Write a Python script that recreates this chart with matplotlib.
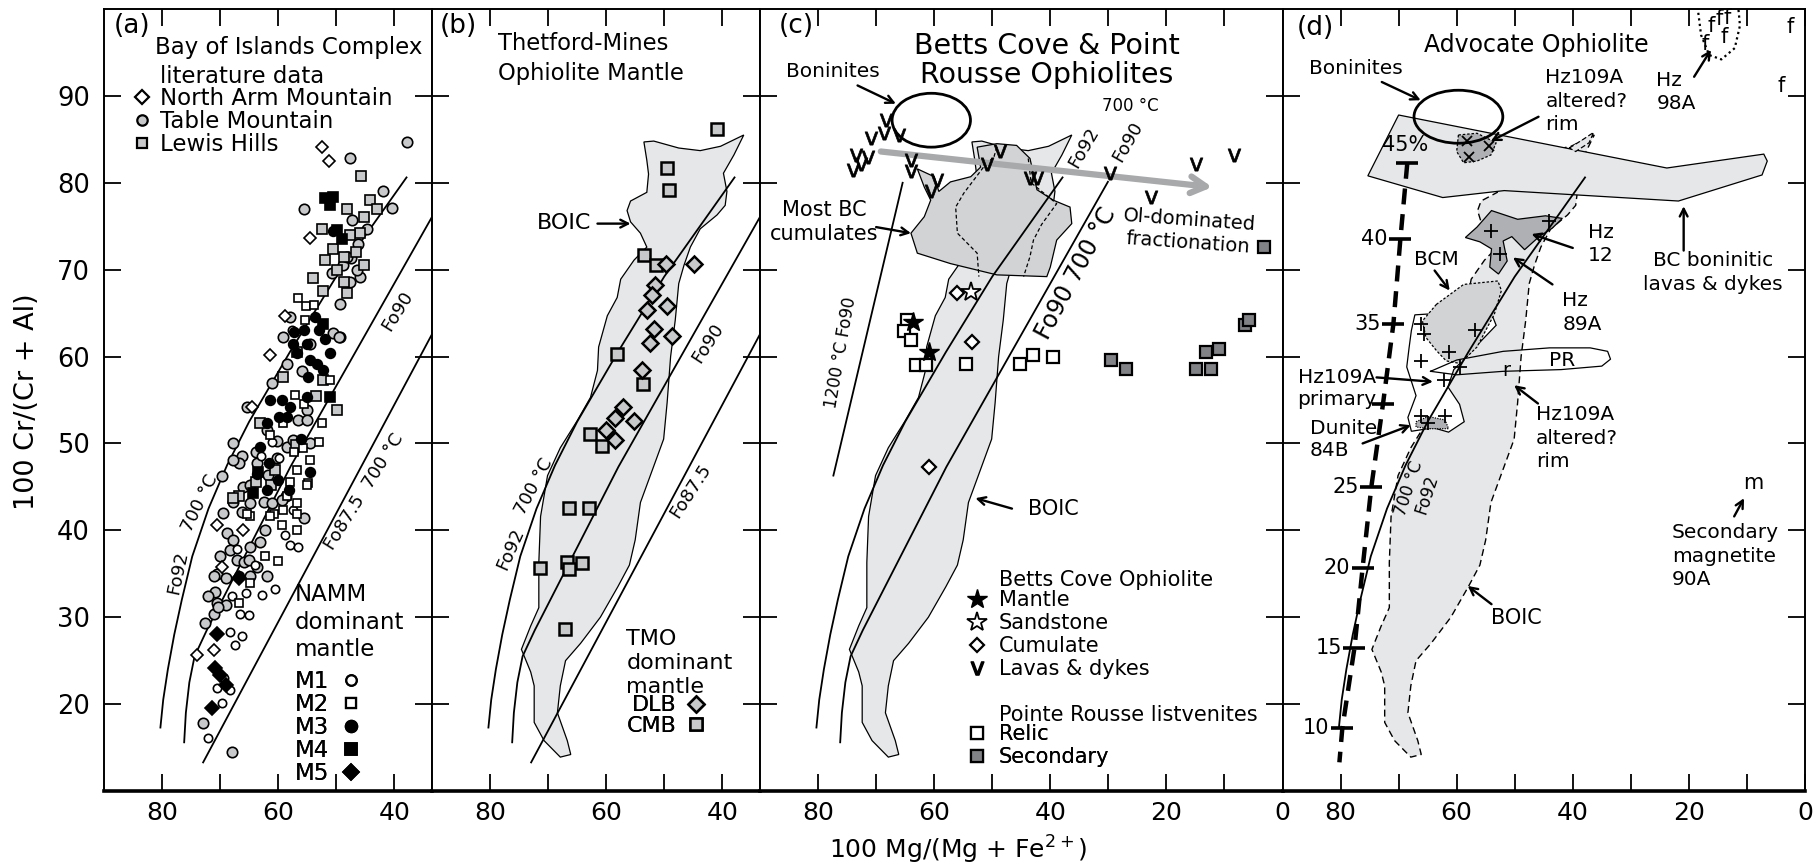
import matplotlib.pyplot as plt
from matplotlib.patches import Polygon, Ellipse
from matplotlib.lines import Line2D

plt.rcParams['font.family'] = ['DejaVu Sans']
plt.rcParams['mathtext.fontset'] = 'dejavusans'

# ---------------- data ----------------
# olivine-spinel isotherm curves (shared between panels)
fo92_x = [80.3, 79.8, 79.0, 77.9, 76.6, 74.8, 72.0, 68.8, 65.0, 58.0, 50.0, 37.8]
fo92_y = [17.2, 20.5, 24.0, 28.0, 32.0, 37.0, 42.5, 47.5, 52.5, 60.5, 69.2, 80.7]
fo90_x = [76.2, 75.9, 75.3, 74.4, 72.3, 57.9, 30.0]
fo90_y = [15.5, 19.0, 22.5, 25.5, 28.5, 47.3, 80.2]
fo875_x = [73.0, 30.6]
fo875_y = [13.2, 66.2]
t1200_x = [65.4, 77.4]
t1200_y = [80.1, 46.2]

# (a) Bay of Islands Complex - literature data
nam_x = [52.5, 51.3, 54.6, 58.8, 61.4, 64.5, 70.6, 66.0, 69.7, 71.1, 74.0]
nam_y = [84.1, 82.5, 73.6, 64.7, 60.2, 54.2, 40.6, 40.0, 35.8, 26.2, 25.7]
tm_x = [37.8, 47.6, 42.0, 55.6, 40.4, 47.3, 44.7, 46.2, 47.5, 48.8, 47.6, 45.9, 49.3, 50.5,
        49.3, 54.5, 59.1, 57.9, 58.5, 55.9, 61.0, 65.4, 56.5, 55.1, 58.5, 67.7, 62.0, 60.2,
        63.8, 66.2, 69.7, 66.8, 67.7, 66.3, 64.8, 62.5, 61.1, 55.6, 68.8, 67.7, 68.3, 64.8,
        63.1, 70.0, 67.1, 70.6, 68.9, 70.9, 64.8, 62.0, 70.6, 71.1, 68.9, 72.6, 72.9, 68.0,
        65.9, 69.5, 66.0, 58.7, 48.2, 46.4, 50.7, 49.6, 55.1, 57.4, 54.5, 63.7, 60.2, 67.7,
        64.8, 61.7, 59.4, 62.2, 65.1, 63.7, 71.1, 70.3, 72.0]
tm_y = [84.7, 82.8, 79.0, 77.0, 77.1, 75.7, 74.7, 72.9, 71.3, 70.5, 68.6, 69.2, 66.1, 62.7,
        62.3, 61.5, 62.3, 64.6, 59.2, 58.3, 57.0, 54.2, 52.7, 53.8, 49.6, 50.0, 51.5, 50.3,
        49.0, 48.6, 46.2, 47.7, 43.3, 42.1, 43.1, 43.3, 43.1, 41.4, 39.7, 38.9, 37.7, 38.1,
        38.7, 37.0, 36.6, 35.0, 34.5, 32.9, 34.7, 34.7, 31.6, 30.4, 31.4, 29.3, 17.8, 14.5,
        36.3, 42.0, 45.0, 44.0, 71.5, 70.0, 69.6, 62.3, 52.7, 50.4, 50.0, 47.7, 48.3, 48.1,
        45.2, 46.4, 43.5, 40.0, 36.6, 35.8, 34.7, 31.2, 32.4]
lh_x = [45.7, 44.1, 43.0, 48.2, 45.3, 45.9, 47.6, 52.5, 48.7, 51.9, 45.3, 49.9, 48.7, 48.2,
        52.3, 59.1, 52.2, 49.9, 63.1, 50.5, 46.6, 54.0, 56.7, 53.5, 63.8, 66.8, 60.5, 57.0,
        67.7, 61.3]
lh_y = [80.8, 78.0, 77.0, 77.0, 76.1, 74.2, 74.0, 74.7, 71.5, 71.1, 70.5, 70.0, 68.6, 67.3,
        67.5, 57.7, 57.3, 53.8, 52.3, 72.4, 72.0, 69.0, 60.5, 55.5, 45.6, 44.0, 47.0, 49.8,
        43.7, 45.2]
# (a) NAMM dominant mantle
m1_x = [57.6, 61.0, 62.9, 59.9, 67.1, 68.0, 66.6, 68.3, 67.4, 66.3, 65.1, 57.9, 56.5, 60.5,
        62.8, 70.6, 69.7, 72.0, 68.3, 57.4, 58.8, 64.0, 65.5, 69.3]
m1_y = [63.1, 50.2, 48.6, 48.3, 37.9, 32.4, 30.4, 28.3, 26.8, 27.8, 30.2, 38.3, 38.1, 33.3,
        32.6, 21.8, 20.1, 16.1, 21.6, 42.3, 39.5, 36.0, 32.8, 23.0]
m2_x = [56.5, 55.2, 53.9, 55.4, 51.0, 57.1, 55.6, 52.5, 53.0, 61.4, 59.1, 55.8, 57.3, 64.8,
        60.8, 59.1, 56.8, 59.4, 56.8, 54.8, 54.5, 64.8, 66.8, 56.8, 62.3, 60.0, 57.9, 56.8,
        55.1, 58.5, 61.4, 65.4]
m2_y = [66.7, 65.8, 65.9, 64.2, 57.3, 55.6, 54.5, 52.3, 50.2, 51.0, 52.3, 49.5, 49.0, 41.6,
        41.9, 42.3, 41.9, 40.6, 40.0, 45.4, 48.1, 33.9, 31.6, 43.1, 37.0, 36.5, 45.6, 46.9,
        45.2, 43.9, 41.6, 41.9]
m3_x = [50.5, 53.6, 55.1, 51.1, 56.8, 54.8, 53.3, 55.1, 61.4, 57.9, 59.8, 63.1, 61.5, 63.7,
        60.0, 54.5, 62.0, 58.2, 66.8, 57.2, 52.0, 56.0, 55.6, 53.0, 57.4, 54.5, 52.2, 59.4,
        61.9, 58.5]
m3_y = [74.4, 64.6, 61.5, 60.4, 60.4, 57.7, 59.2, 55.4, 55.0, 54.2, 53.0, 49.6, 47.8, 46.5,
        45.8, 46.7, 44.6, 44.6, 34.7, 62.8, 62.0, 50.5, 63.0, 63.0, 61.5, 59.6, 58.5, 55.0,
        52.3, 53.1]
m4_x = [51.9, 51.0, 50.6, 49.9, 49.0, 51.0, 52.2, 63.4, 64.3]
m4_y = [78.2, 77.4, 78.4, 74.6, 73.5, 55.4, 63.8, 46.7, 44.3]
m5_x = [70.6, 70.9, 70.0, 68.9, 71.4, 66.8]
m5_y = [28.1, 24.1, 23.4, 22.2, 19.5, 34.5]

# (b) Thetford-Mines Ophiolite mantle
cmb_x = [40.9, 49.5, 49.1, 53.4, 51.5, 58.2, 53.6, 62.7, 60.7, 66.4, 63.0, 71.4, 66.7, 64.1,
         66.4, 67.1]
cmb_y = [86.2, 81.7, 79.2, 71.7, 70.5, 60.3, 56.8, 51.1, 49.7, 42.6, 42.6, 35.7, 36.3, 36.2,
         35.6, 28.6]
dlb_x = [49.7, 44.9, 51.6, 52.1, 53.0, 49.5, 51.8, 48.7, 52.4, 53.8, 57.1, 58.4, 55.2, 60.1,
         58.4]
dlb_y = [70.6, 70.6, 68.2, 67.1, 65.4, 65.8, 63.2, 62.4, 61.6, 58.4, 54.2, 52.9, 52.6, 51.6,
         50.4]

# BOIC field outline (shared b, c, d)
boic_x = [53.5, 51.8, 47.5, 43.8, 40.3, 36.3, 38.0, 39.8, 39.2, 39.5, 40.9, 43.8, 45.5, 46.6,
          47.5, 48.1, 48.9, 49.5, 50.1, 52.4, 54.1, 55.0, 56.0, 58.0, 61.0, 64.4, 67.0, 67.9,
          68.4, 66.7, 66.1, 67.9, 70.7, 72.4, 72.4, 73.0, 74.6, 73.0, 71.6, 71.6, 71.3, 70.1,
          67.9, 65.0, 62.7, 61.5, 61.3, 59.8, 58.1, 57.5, 55.2, 53.0, 54.1, 55.8, 56.4, 55.8,
          53.0, 52.7, 53.0]
boic_y = [84.7, 84.8, 84.0, 83.7, 84.2, 85.5, 83.2, 81.1, 79.0, 77.4, 76.3, 74.7, 72.6, 70.5,
          68.4, 64.2, 60.0, 54.7, 50.5, 46.3, 43.2, 38.9, 36.0, 33.5, 30.0, 27.0, 25.0, 22.1,
          19.0, 15.8, 14.2, 13.9, 15.8, 17.9, 22.1, 23.7, 26.3, 29.0, 31.1, 36.3, 41.6, 46.3,
          49.5, 52.6, 55.3, 58.4, 61.1, 64.7, 66.8, 68.9, 71.1, 72.6, 74.2, 75.5, 76.8, 77.9,
          78.9, 81.0, 82.6]

# (c) Betts Cove & Pointe Rousse
cum_x = [62.9, 60.0, 59.2, 57.2, 53.7, 52.0, 52.6, 49.2, 45.8, 43.5, 42.3, 39.5, 36.6, 36.3,
         38.9, 40.0, 40.6, 49.2, 57.2, 62.9, 64.0, 61.7, 60.6, 61.7]
cum_y = [81.6, 80.7, 79.0, 80.1, 80.7, 81.8, 84.1, 84.5, 84.3, 82.8, 79.2, 78.0, 77.2, 75.3,
         73.4, 70.3, 69.2, 69.4, 70.7, 71.9, 74.2, 76.1, 78.0, 79.5]
dash1_x = [49.2, 49.7, 51.5, 54.9, 56.3, 56.0, 52.6, 52.3]
dash1_y = [84.1, 83.0, 81.8, 78.8, 77.2, 74.2, 71.9, 69.2]
dash2_x = [43.8, 43.3, 38.9, 41.5, 42.9, 43.5, 44.6]
dash2_y = [82.8, 80.0, 77.6, 75.2, 73.4, 71.5, 69.2]
lava_x = [68.3, 70.9, 68.6, 66.0, 73.4, 71.4, 74.0, 72.6, 64.0, 64.0, 59.5, 60.6, 48.6, 50.9,
          43.5, 42.3, 29.8, 22.6, 14.9, 8.4]
lava_y = [87.2, 85.1, 85.7, 85.5, 83.2, 83.0, 81.5, 82.2, 82.6, 81.3, 80.3, 79.0, 83.6, 82.2,
          80.5, 80.5, 81.1, 78.4, 82.2, 83.2]
mantle_x = [63.7, 60.9]
mantle_y = [64.0, 60.5]
sand_x = [53.7]
sand_y = [67.4]
cumulate_x = [56.0, 53.5, 60.9]
cumulate_y = [67.3, 61.7, 47.3]
relic_x = [64.6, 65.2, 64.0, 63.1, 61.4, 54.6, 45.2, 42.9, 39.5]
relic_y = [64.2, 62.9, 61.9, 59.0, 59.0, 59.2, 59.2, 60.2, 60.0]
second_x = [29.5, 26.9, 14.9, 12.4, 13.2, 11.0, 6.4, 5.8, 3.2]
second_y = [59.6, 58.6, 58.6, 58.6, 60.5, 60.9, 63.6, 64.2, 72.6]
ol_trend_x = [69.2, 12.1]
ol_trend_y = [83.6, 79.5]

# (d) Advocate Ophiolite
bc_x = [70.0, 23.8, 7.1, 6.5, 7.4, 21.8, 51.8, 62.4, 75.3]
bc_y = [87.8, 81.7, 83.3, 82.5, 80.9, 77.9, 79.1, 78.3, 80.8]
hzalt_x = [59.7, 56.5, 53.2, 54.1, 56.5, 58.8, 60.0]
hzalt_y = [85.5, 85.7, 84.6, 83.2, 82.5, 82.3, 83.6]
sliver_x = [40.6, 38.2, 36.4, 37.2, 39.5]
sliver_y = [84.0, 85.0, 85.8, 84.6, 83.6]
hzx_x = [58.2, 54.4, 57.9]
hzx_y = [84.8, 84.2, 83.0]
prim_x = [67.2, 60.0, 53.8, 53.2, 55.5, 58.0, 60.5, 61.5, 59.5, 58.7, 61.4, 64.0, 67.8, 68.4,
          67.0, 68.6, 68.2, 67.8]
prim_y = [64.8, 65.1, 64.6, 63.6, 62.0, 60.2, 58.5, 56.5, 54.5, 52.5, 51.3, 51.8, 51.4, 53.0,
          55.5, 58.8, 61.0, 63.0]
bcm_x = [63.5, 58.8, 52.9, 52.3, 53.5, 56.5, 59.4, 61.8, 63.5, 65.3, 65.9]
bcm_y = [66.0, 68.3, 68.7, 67.6, 64.9, 61.1, 59.2, 59.5, 60.7, 62.2, 64.1]
hz12_x = [58.5, 56.5, 54.0, 49.5, 44.7, 41.8, 43.5, 45.8, 48.3, 50.5, 52.0, 51.3, 52.8, 54.3,
          54.0, 56.0]
hz12_y = [73.7, 74.9, 76.8, 75.8, 76.2, 75.9, 74.8, 73.8, 72.3, 73.8, 73.3, 71.0, 69.5, 70.3,
          72.4, 73.2]
pr_x = [64.5, 60.0, 52.0, 44.0, 37.0, 34.0, 33.5, 35.0, 42.0, 52.0, 60.0]
pr_y = [58.3, 59.6, 60.6, 61.0, 61.0, 60.6, 59.7, 58.9, 58.5, 58.3, 57.9]
dun_x = [67.0, 64.9, 62.0, 61.4, 64.9, 67.0]
dun_y = [52.5, 53.1, 52.7, 51.7, 51.7, 51.9]
hz_x = [44.1, 54.1, 52.6, 66.2, 65.6, 56.8, 61.3, 66.2, 59.4, 62.1, 66.1, 62.0, 64.9]
hz_y = [75.6, 74.4, 71.8, 63.7, 62.6, 63.0, 60.5, 59.5, 58.8, 57.3, 53.2, 53.2, 52.3]
# melting-degree scale (% melting) along the dashed trend
melt_pct = [45, 40, 35, 30, 25, 20, 15, 10]
melt_x = [68.5, 69.7, 70.9, 72.7, 74.7, 76.2, 77.6, 79.7]
melt_y = [82.3, 73.5, 63.75, 54.5, 45.0, 35.7, 26.5, 17.2]
melt_labels = ['45%', '40', '35', '', '25', '20', '15', '10']
melt_end_x = [80.2]
melt_end_y = [13.3]
hz98_x = [18.5, 17.9, 16.5, 14.4, 12.1, 11.2, 11.5]
hz98_y = [100.2, 97.0, 94.7, 94.2, 95.5, 98.1, 100.2]
fchar_x = [17.2, 16.2, 14.8, 13.4, 14.0, 2.6, 4.1]
fchar_y = [96.0, 98.1, 98.8, 99.0, 96.8, 97.9, 91.1]

# ---------------- styles ----------------
LIGHT = '#e6e7e8'
MID = '#d1d3d4'
DARK = '#aeb0b3'
GREYMK = '#c8c9cb'

fig = plt.figure(figsize=(18.2, 8.67), dpi=100)
gs = fig.add_gridspec(1, 4, width_ratios=[56.5, 56.5, 90, 90], wspace=0,
                      left=104 / 1820, right=1805 / 1820, bottom=1 - 791 / 867, top=1 - 9 / 867)
axes = [fig.add_subplot(gs[0, i]) for i in range(4)]
ax_a, ax_b, ax_c, ax_d = axes

for i, ax in enumerate(axes):
    if i < 2:
        ax.set_xlim(90, 33.5)
        ax.set_xticks([80, 70, 60, 50, 40])
        ax.set_xticklabels(['80', '', '60', '', '40'])
    else:
        ax.set_xlim(90, 0)
        ax.set_xticks(range(80, -1, -10))
        ax.set_xticklabels(['80', '', '60', '', '40', '', '20', '', '0'])
    ax.set_ylim(10, 100)
    ax.set_yticks(range(20, 91, 10))
    ax.tick_params(direction='in', length=12, width=1.3, top=True, right=True)
    ax.tick_params(axis='x', labelsize=18, pad=7)
    ax.tick_params(axis='y', labelsize=18.5, pad=10)
    if i > 0:
        ax.tick_params(labelleft=False)
    for s in ax.spines.values():
        s.set_linewidth(1.4)
    ax.spines['bottom'].set_linewidth(2.6)


def curve(ax, x, y, **kw):
    ax.plot(x, y, color='k', lw=1.3, solid_capstyle='butt', **kw)


def poly(ax, x, y, fc, ec='k', lw=0.9, ls='-', z=1):
    ax.add_patch(Polygon(list(zip(x, y)), closed=True, fc=fc, ec=ec, lw=lw, ls=ls, zorder=z))


def arrow(ax, tail, head, lw=1.7):
    ax.annotate('', xy=head, xytext=tail,
                arrowprops=dict(arrowstyle='->,head_length=0.55,head_width=0.28', lw=lw,
                                color='k', shrinkA=0, shrinkB=0))


def mk(ax, x, y, marker, ms, fc, mew=1.2, z=3):
    ax.plot(x, y, ls='none', marker=marker, ms=ms, mfc=fc, mec='k', mew=mew, zorder=z)


def key(marker, ms, fc, mew=1.2):
    return Line2D([], [], ls='none', marker=marker, ms=ms, mfc=fc, mec='k', mew=mew)


def legend(ax, handles, labels, x, y, fs, first=True, pad=0.4, sp=0.0):
    lg = ax.legend(handles, labels, loc='upper left', bbox_to_anchor=(x, y),
                   bbox_transform=ax.transData, frameon=False, fontsize=fs, markerfirst=first,
                   handlelength=0.8, handletextpad=pad, labelspacing=sp, borderpad=0,
                   borderaxespad=0, numpoints=1)
    ax.add_artist(lg)


# ---------------- panel (a) ----------------
ax = ax_a
curve(ax, fo92_x, fo92_y)
curve(ax, fo90_x, fo90_y)
curve(ax, fo875_x, fo875_y)
mk(ax, tm_x, tm_y, 'o', 7.5, GREYMK)
mk(ax, lh_x, lh_y, 's', 7.5, GREYMK)
mk(ax, nam_x, nam_y, 'D', 6.5, 'white')
mk(ax, m1_x, m1_y, 'o', 6, 'white')
mk(ax, m2_x, m2_y, 's', 5.5, 'white')
mk(ax, m3_x, m3_y, 'o', 7, 'k')
mk(ax, m4_x, m4_y, 's', 7, 'k')
mk(ax, m5_x, m5_y, 'D', 7, 'k')
ax.text(88.4, 98.0, '(a)', fontsize=19, va='center', ha='left')
ax.text(81.2, 95.6, 'Bay of Islands Complex', fontsize=16.5, va='center', ha='left')
ax.text(80.3, 92.2, 'literature data', fontsize=16.5, va='center', ha='left')
legend(ax, [key('D', 7, 'white', 1.6), key('o', 7.5, GREYMK, 1.6), key('s', 7.5, GREYMK, 1.6)],
       ['North Arm Mountain', 'Table Mountain', 'Lewis Hills'], 85.1, 91.0, 16.5)
ax.text(57.1, 33.9, 'NAMM\ndominant\nmantle', fontsize=16.5, va='top', ha='left',
        linespacing=1.25)
legend(ax, [key('o', 7.5, 'white', 1.6), key('s', 7.5, 'white', 1.6), key('o', 8.5, 'k'),
            key('s', 8.5, 'k'), key('D', 8.5, 'k')],
       ['M1', 'M2', 'M3', 'M4', 'M5'], 57.1, 23.9, 16.5, first=False, pad=0.55)
ax.text(77.2, 35.1, 'Fo92', fontsize=13, rotation=78, ha='center', va='center')
ax.text(73.4, 43.1, '700 °C', fontsize=13, rotation=64, ha='center', va='center')
ax.text(39.5, 65.2, 'Fo90', fontsize=13, rotation=58, ha='center', va='center')
ax.text(45.2, 44.4, 'Fo87.5  700 °C', fontsize=13, rotation=58, ha='center', va='center')

# ---------------- panel (b) ----------------
ax = ax_b
poly(ax, boic_x, boic_y, LIGHT)
curve(ax, fo92_x, fo92_y)
curve(ax, fo90_x, fo90_y)
curve(ax, fo875_x, fo875_y)
mk(ax, cmb_x, cmb_y, 's', 8.5, GREYMK, 1.8)
mk(ax, dlb_x, dlb_y, 'D', 8, GREYMK, 1.8)
ax.text(88.7, 98.0, '(b)', fontsize=19, va='center', ha='left')
ax.text(78.7, 97.3, 'Thetford-Mines\nOphiolite Mantle', fontsize=16.3, va='top', ha='left',
        linespacing=1.35)
ax.text(67.3, 75.4, 'BOIC', fontsize=16, va='center', ha='center')
arrow(ax, (61.5, 75.3), (55.8, 75.3))
ax.text(76.4, 37.9, 'Fo92', fontsize=13, rotation=66, ha='center', va='center')
ax.text(72.4, 45.0, '700 °C', fontsize=13, rotation=62, ha='center', va='center')
ax.text(42.4, 61.6, 'Fo90', fontsize=13, rotation=57, ha='center', va='center')
ax.text(45.5, 44.5, 'Fo87.5', fontsize=13, rotation=57, ha='center', va='center')
ax.text(56.5, 28.6, 'TMO\ndominant\nmantle', fontsize=16, va='top', ha='left', linespacing=1.25)
legend(ax, [key('D', 8, GREYMK, 1.8), key('s', 8.5, GREYMK, 1.8)], ['DLB', 'CMB'],
       56.5, 21.0, 16, first=False, pad=0.48, sp=0.03)

# ---------------- panel (c) ----------------
ax = ax_c
poly(ax, boic_x, boic_y, LIGHT)
poly(ax, cum_x, cum_y, MID)
ax.plot(dash1_x, dash1_y, 'k--', lw=0.9, dashes=(3, 2))
ax.plot(dash2_x, dash2_y, 'k--', lw=0.9, dashes=(3, 2))
curve(ax, fo92_x, fo92_y)
curve(ax, fo90_x, fo90_y)
curve(ax, t1200_x, t1200_y)
ax.add_patch(Ellipse((60.5, 87.2), 13.5, 6.2, fc='none', ec='k', lw=2.0))
ax.annotate('', xy=(ol_trend_x[1], ol_trend_y[1]), xytext=(ol_trend_x[0], ol_trend_y[0]),
            arrowprops=dict(arrowstyle='->,head_length=1.1,head_width=0.6', lw=4.5,
                            color='#a7a9ab', shrinkA=0, shrinkB=0), zorder=4)
ax.plot(lava_x, lava_y, ls='none', marker=r'$\mathsf{v}$', ms=9.5, color='k', mew=0.5, zorder=5)
mk(ax, relic_x, relic_y, 's', 8, 'white', 1.6)
mk(ax, second_x, second_y, 's', 8, '#808285', 1.6)
mk(ax, cumulate_x, cumulate_y, 'D', 7, 'white', 1.6)
mk(ax, sand_x, sand_y, '*', 15, 'white', 1.3)
mk(ax, mantle_x, mantle_y, '*', 15, 'k', 1.0)
ax.text(86.8, 98.1, '(c)', fontsize=19, va='center', ha='left')
ax.text(40.6, 97.4, 'Betts Cove & Point\nRousse Ophiolites', fontsize=20.5, va='top',
        ha='center', linespacing=1.05)
ax.text(77.4, 92.8, 'Boninites', fontsize=14.5, va='center', ha='center')
arrow(ax, (73.2, 91.2), (66.6, 89.1))
ax.text(79.0, 75.5, 'Most BC\ncumulates', fontsize=15, va='center', ha='center',
        linespacing=1.25)
arrow(ax, (70.0, 74.9), (64.0, 74.2))
ax.text(16.1, 74.4, 'Ol-dominated\nfractionation', fontsize=14, va='center', ha='center',
        rotation=-4, linespacing=1.2)
ax.text(39.5, 42.5, 'BOIC', fontsize=15, va='center', ha='center')
arrow(ax, (46.6, 42.5), (52.9, 43.7))
ax.text(76.0, 60.4, '1200 °C Fo90', fontsize=12, rotation=80, ha='center', va='center')
ax.text(34.3, 84.1, 'Fo92', fontsize=13, rotation=60, ha='center', va='center')
ax.text(26.3, 88.8, '700 °C', fontsize=12, ha='center', va='center')
ax.text(26.6, 84.7, 'Fo90', fontsize=13, rotation=60, ha='center', va='center')
ax.text(35.5, 69.6, 'Fo90 700 °C', fontsize=17, rotation=62, ha='center', va='center')
ax.text(48.9, 34.3, 'Betts Cove Ophiolite', fontsize=15, va='center', ha='left')
legend(ax, [key('*', 15, 'k', 1.0), key('*', 15, 'white', 1.3), key('D', 7, 'white', 1.6),
            Line2D([], [], ls='none', marker=r'$\mathsf{v}$', ms=9.5, color='k')],
       ['Mantle', 'Sandstone', 'Cumulate', 'Lavas & dykes'], 54.0, 33.1, 15, pad=0.63, sp=0.14)
ax.text(48.9, 18.8, 'Pointe Rousse listvenites', fontsize=15, va='center', ha='left')
legend(ax, [key('s', 8, 'white', 1.6), key('s', 8, '#808285', 1.6)], ['Relic', 'Secondary'],
       54.0, 17.7, 15, pad=0.63, sp=0.14)

# ---------------- panel (d) ----------------
ax = ax_d
poly(ax, boic_x, boic_y, LIGHT, lw=1.0, ls=(0, (5, 3)))
poly(ax, bc_x, bc_y, LIGHT, lw=0.9)
poly(ax, sliver_x, sliver_y, LIGHT, lw=0.9, ls=(0, (4, 2)))
poly(ax, hzalt_x, hzalt_y, DARK, lw=0.9, ls=(0, (2, 1.5)), z=2)
poly(ax, prim_x, prim_y, 'white', lw=0.9)
poly(ax, bcm_x, bcm_y, MID, lw=0.9, ls=(0, (2, 1.5)))
poly(ax, hz12_x, hz12_y, DARK, lw=0.9)
ax.plot(pr_x + pr_x[:1], pr_y + pr_y[:1], color='k', lw=0.9)
poly(ax, dun_x, dun_y, DARK, lw=0.9, ls=(0, (1, 1)))
curve(ax, fo92_x, fo92_y)
ax.add_patch(Ellipse((59.7, 87.6), 15.3, 6.1, fc='none', ec='k', lw=2.0, zorder=2))
ax.plot(melt_x + melt_end_x, melt_y + melt_end_y, color='k', lw=3.2, dashes=(3.6, 2.2),
        zorder=3)
ax.plot(melt_x, melt_y, ls='none', marker='_', ms=16, mew=2.6, color='k', zorder=3)
for px, py, lab in zip(melt_x, melt_y, melt_labels):
    if lab.endswith('%'):
        ax.text(px + 0.3, py + 2.0, lab, fontsize=15, ha='center', va='center')
    elif lab:
        ax.text(px + 2.2, py, lab, fontsize=15, ha='right', va='center')
ax.plot(hz_x, hz_y, ls='none', marker='+', ms=10, mew=1.3, color='k', zorder=4)
ax.plot(hzx_x, hzx_y, ls='none', marker='x', ms=7, mew=1.3, color='k', zorder=4)
ax.plot(hz98_x, hz98_y, color='k', lw=1.6, ls=(0, (1, 1.5)))
for fx, fy in zip(fchar_x, fchar_y):
    ax.text(fx, fy, 'f', fontsize=15, ha='center', va='center')
ax.text(51.5, 58.4, 'r', fontsize=14, ha='center', va='center')
ax.text(8.9, 45.4, 'm', fontsize=15, ha='center', va='center')
ax.text(87.6, 97.8, '(d)', fontsize=19, va='center', ha='left')
ax.text(46.2, 95.8, 'Advocate Ophiolite', fontsize=17, va='center', ha='center')
ax.text(77.4, 93.2, 'Boninites', fontsize=14.5, va='center', ha='center')
arrow(ax, (72.9, 91.6), (66.2, 89.5))
ax.text(44.7, 93.2, 'Hz109A\naltered?\nrim', fontsize=14.5, va='top', ha='left', linespacing=1.3)
arrow(ax, (45.9, 87.6), (54.1, 84.8))
ax.text(25.6, 92.9, 'Hz\n98A', fontsize=14.5, va='top', ha='left', linespacing=1.3)
arrow(ax, (19.1, 92.2), (16.2, 95.3))
ax.text(63.5, 71.2, 'BCM', fontsize=14.5, va='center', ha='center')
arrow(ax, (63.8, 69.9), (61.2, 67.6))
ax.text(37.4, 75.4, 'Hz\n12', fontsize=14.5, va='top', ha='left', linespacing=1.3)
arrow(ax, (40.0, 72.5), (47.1, 74.1))
ax.text(41.8, 67.5, 'Hz\n89A', fontsize=14.5, va='top', ha='left', linespacing=1.3)
arrow(ax, (43.5, 68.3), (50.3, 71.4))
ax.text(15.9, 69.7, 'BC boninitic\nlavas & dykes', fontsize=14.5, va='center', ha='center',
        linespacing=1.3)
arrow(ax, (20.9, 72.2), (20.9, 77.3))
ax.text(41.9, 59.5, 'PR', fontsize=14.5, va='center', ha='center')
ax.text(87.4, 56.3, 'Hz109A\nprimary', fontsize=14.5, va='center', ha='left', linespacing=1.2)
arrow(ax, (73.8, 57.6), (64.1, 57.1))
ax.text(85.3, 50.5, 'Dunite\n84B', fontsize=14.5, va='center', ha='left', linespacing=1.2)
arrow(ax, (76.2, 50.0), (67.9, 52.1))
ax.text(46.3, 54.4, 'Hz109A\naltered?\nrim', fontsize=14.5, va='top', ha='left', linespacing=1.3)
arrow(ax, (46.0, 54.6), (50.1, 56.7))
arrow(ax, (12.2, 41.6), (10.5, 43.7))
ax.text(22.9, 40.8, 'Secondary\nmagnetite\n90A', fontsize=14.5, va='top', ha='left',
        linespacing=1.3)
ax.text(49.7, 29.9, 'BOIC', fontsize=15, va='center', ha='center')
arrow(ax, (54.0, 31.5), (58.1, 33.6))
ax.text(66.7, 44.5, '700 °C\nFo92', fontsize=12, rotation=72, ha='center', va='center',
        linespacing=1.1)

fig.text(27.5 / 1820, 1 - 402 / 867, '100 Cr/(Cr + Al)', rotation=90, fontsize=19.5,
         ha='center', va='center')
fig.text(958 / 1820, 1 - 850 / 867, '100 Mg/(Mg + Fe$^{2+}$)', fontsize=18,
         ha='center', va='center')

fig.savefig('out.png', dpi=100)
